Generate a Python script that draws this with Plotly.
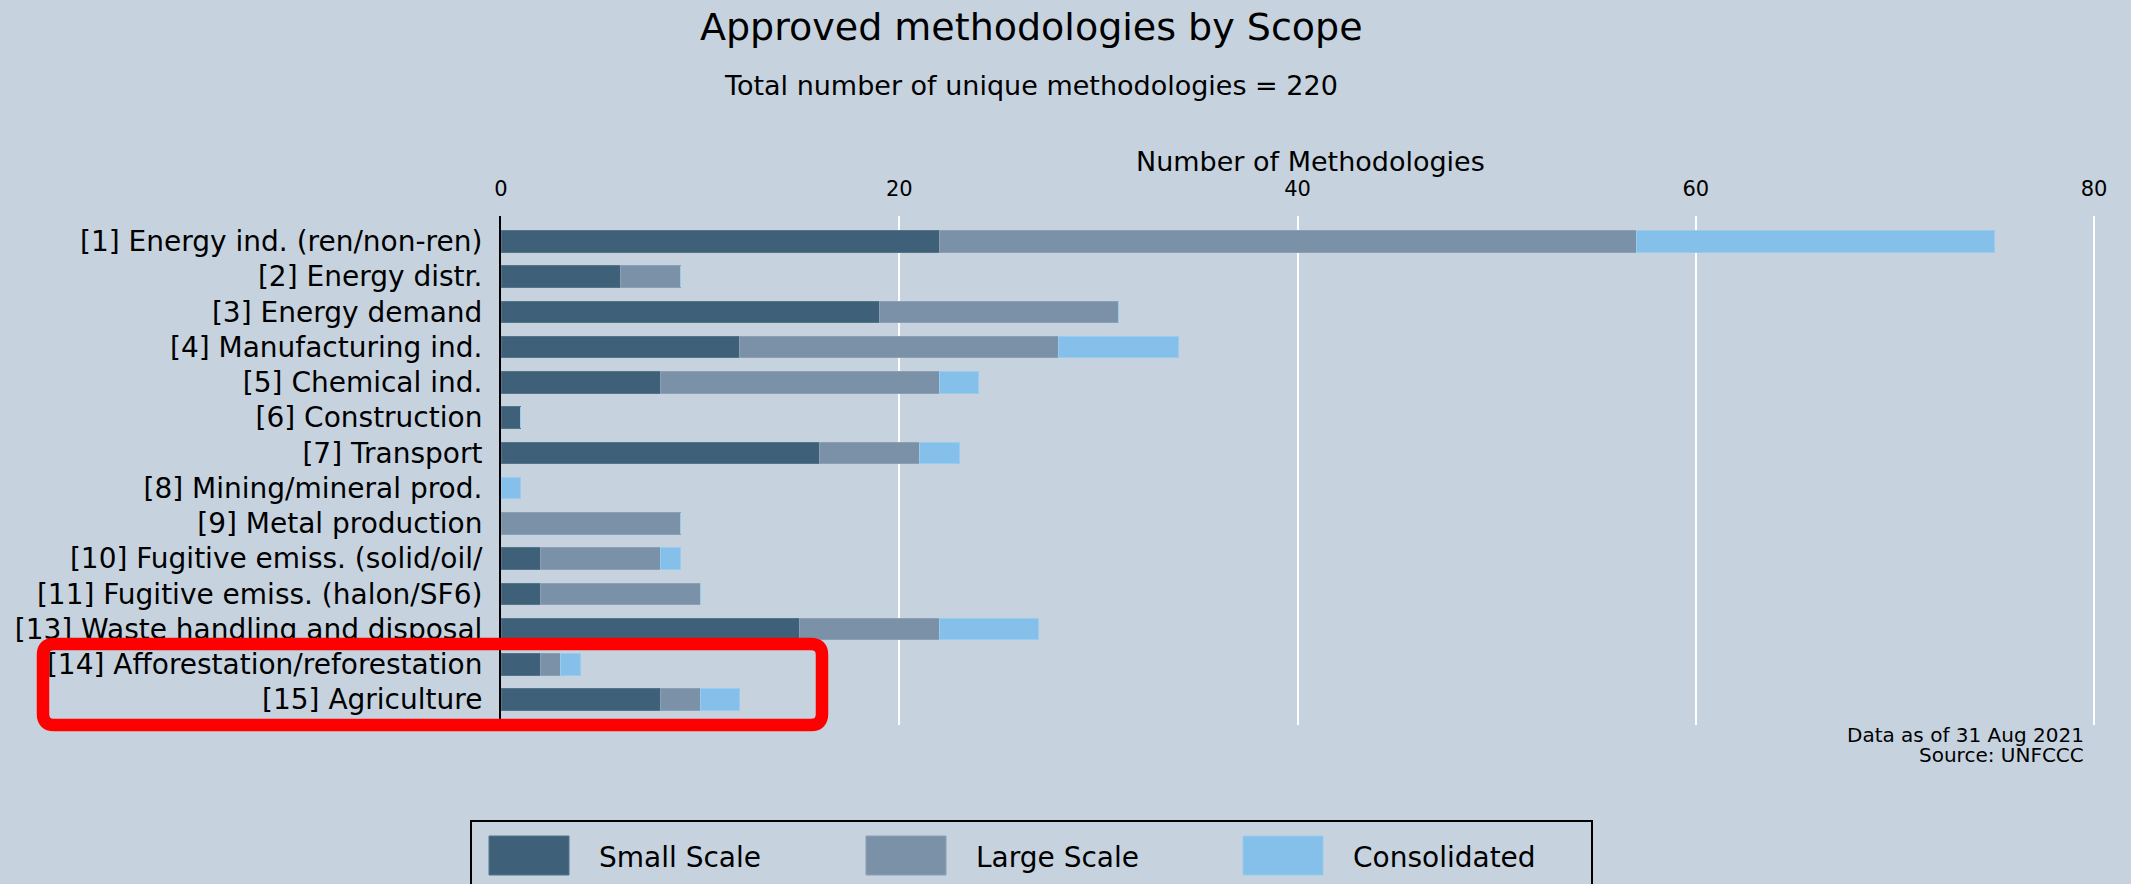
import plotly.graph_objects as go

# ---- data -------------------------------------------------------------
scopes = [
    "[1] Energy ind. (ren/non-ren)",
    "[2] Energy distr.",
    "[3] Energy demand",
    "[4] Manufacturing ind.",
    "[5] Chemical ind.",
    "[6] Construction",
    "[7] Transport",
    "[8] Mining/mineral prod.",
    "[9] Metal production",
    "[10] Fugitive emiss. (solid/oil/",
    "[11] Fugitive emiss. (halon/SF6)",
    "[13] Waste handling and disposal",
    "[14] Afforestation/reforestation",
    "[15] Agriculture",
]
small_scale = [22, 6, 19, 12, 8, 1, 16, 0, 0, 2, 2, 15, 2, 8]
large_scale = [35, 3, 12, 16, 14, 0, 5, 0, 9, 6, 8, 7, 1, 2]
consolidated = [18, 0, 0, 6, 2, 0, 2, 1, 0, 1, 0, 5, 1, 2]

series_names = ["Small Scale", "Large Scale", "Consolidated"]
series_values = [small_scale, large_scale, consolidated]
series_colors = ["#3E6179", "#7B91A8", "#84C0E9"]
edge_colors = ["#557489", "#8BA0B5", "#98CBEE"]

x_ticks = [0, 20, 40, 60, 80]

title_text = "Approved methodologies by Scope"
subtitle_text = "Total number of unique methodologies = 220"
axis_title_text = "Number of Methodologies"
note_lines = ["Data as of 31 Aug 2021", "Source: UNFCCC"]

# ---- page geometry (pixels) -------------------------------------------
W, H = 2131, 884
PL, PR, PT, PB = 501, 2102, 216, 725  # plot area edges
BG = "#C6D3DF"
FONT = "DejaVu Sans"


def px_x(px):
    return (px - PL) / (PR - PL)


def px_y(py):
    return (PB - py) / (PB - PT)


fig = go.Figure()
for name, vals, col, edge in zip(series_names, series_values, series_colors, edge_colors):
    fig.add_trace(go.Bar(
        y=scopes, x=vals, name=name, orientation="h",
        marker=dict(color=col, line=dict(color=edge, width=1)),
        width=0.61, showlegend=False,
    ))

n = len(scopes)
pad = 0.72
fig.update_layout(
    width=W, height=H,
    barmode="stack",
    paper_bgcolor=BG, plot_bgcolor=BG,
    margin=dict(l=PL, r=W - PR, t=PT, b=H - PB, pad=0),
    font=dict(family=FONT, color="#000000"),
    xaxis=dict(
        side="top", range=[0, 80.4], tickvals=x_ticks,
        showgrid=True, gridcolor="#FFFFFF", gridwidth=2,
        zeroline=False, showline=False, ticks="",
        tickfont=dict(size=21, color="#000000"),
        ticklabelstandoff=15, automargin=False,
    ),
    yaxis=dict(
        type="category", categoryorder="array", categoryarray=scopes,
        range=[n - 1 + pad, -pad],
        showgrid=False, zeroline=False,
        showline=True, linecolor="#000000", linewidth=2,
        ticks="", tickfont=dict(size=28, color="#000000"),
        ticklabelstandoff=11, automargin=False,
    ),
)

annotations = [
    dict(text=title_text, x=px_x(1031), y=px_y(27), font=dict(size=38),
         xanchor="center", yanchor="middle"),
    dict(text=subtitle_text, x=px_x(1031), y=px_y(85), font=dict(size=27),
         xanchor="center", yanchor="middle"),
    dict(text=axis_title_text, x=px_x(1310), y=px_y(161), font=dict(size=27),
         xanchor="center", yanchor="middle"),
]
for i, line in enumerate(note_lines):
    annotations.append(dict(text=line, x=px_x(2086), y=px_y(735 + 20 * i),
                            font=dict(size=20), xanchor="right", yanchor="middle"))

shapes = []

# legend frame (runs past the bottom of the page)
shapes.append(dict(type="rect", xref="paper", yref="paper",
                   x0=px_x(471), x1=px_x(1592), y0=px_y(821), y1=px_y(910),
                   line=dict(color="#000000", width=2), fillcolor="rgba(0,0,0,0)",
                   layer="above"))
key_x0, key_step, key_w = 489, 377, 80
for i, (name, col, edge) in enumerate(zip(series_names, series_colors, edge_colors)):
    kx = key_x0 + i * key_step
    shapes.append(dict(type="rect", xref="paper", yref="paper",
                       x0=px_x(kx), x1=px_x(kx + key_w), y0=px_y(836), y1=px_y(875),
                       fillcolor=col, line=dict(color=edge, width=1), layer="above"))
    annotations.append(dict(text=name, x=px_x(kx + 108), y=px_y(857),
                            font=dict(size=28), xanchor="left", yanchor="middle"))

# red highlight frame with rounded corners
bx0, bx1, by0, by1, r = 43, 822, 644, 725, 11
rx = r / (PR - PL)
ry = r / (PB - PT)
X0, X1, Y0, Y1 = px_x(bx0), px_x(bx1), px_y(by0), px_y(by1)
path = (
    f"M {X0 + rx},{Y0} L {X1 - rx},{Y0} Q {X1},{Y0} {X1},{Y0 - ry} "
    f"L {X1},{Y1 + ry} Q {X1},{Y1} {X1 - rx},{Y1} "
    f"L {X0 + rx},{Y1} Q {X0},{Y1} {X0},{Y1 + ry} "
    f"L {X0},{Y0 - ry} Q {X0},{Y0} {X0 + rx},{Y0} Z"
)
shapes.append(dict(type="path", xref="paper", yref="paper", path=path,
                   line=dict(color="#FF0000", width=12.5), layer="above"))

for a in annotations:
    a.update(xref="paper", yref="paper", showarrow=False)
fig.update_layout(annotations=annotations, shapes=shapes)

fig.write_html("out.html")
